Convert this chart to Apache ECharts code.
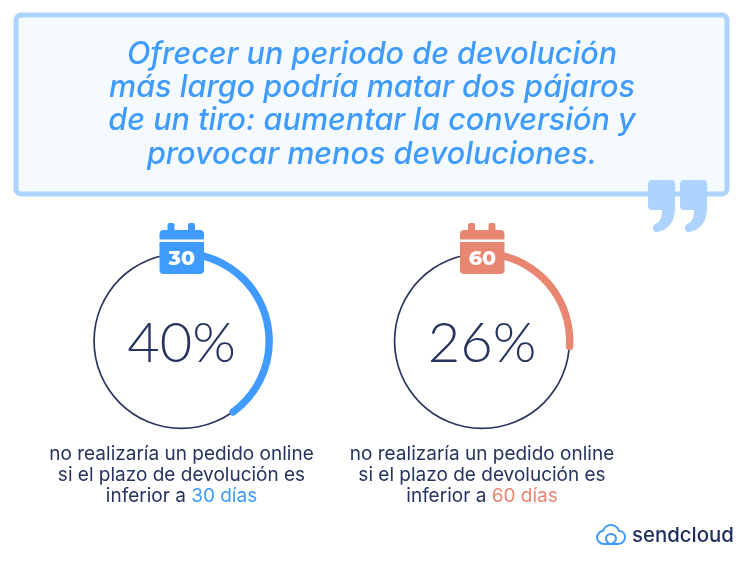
<!DOCTYPE html>
<html><head><meta charset="utf-8">
<style>html,body{margin:0;padding:0;background:#fff}#c{width:750px;height:565px}</style>
<script src="https://cdn.jsdelivr.net/npm/echarts@6/dist/echarts.min.js"></script>
</head><body><div id="c"></div>
<script>
const titleLines = ['Ofrecer un periodo de devolución','más largo podría matar dos pájaros','de un tiro: aumentar la conversión y','provocar menos devoluciones.'];
const percents = [40, 26];
const days = ['30', '60'];
const captionLines = ['no realizaría un pedido online','si el plazo de devolución es','inferior a '];
const accentColors = ['#3f9bff', '#e98671'];
const centersX = [181.5, 482];
const centerY = 341;
const navy = '#26345f';
const font = 'Inter';

const quote = 'M4 0 H23 Q27 0 27 4 V28 C27 42 20 50 9 52 Q5 52 5 48 Q5 44 9 43 C13 41 14 36 14 30 H4 Q0 30 0 26 V4 Q0 0 4 0 Z';
const cloud = 'M7 19 H21 C26 19 28 15 28 12 C28 8 25 6 22 6 C21 2 17 0 14 0 C10 0 7 3 6 6 C3 6 0 9 0 12.5 C0 16 3 19 7 19 M14 19 C11 19 9 16 9 13.5 C9 11 11 9 14 9 C17 9 19 11 19 13.5 C19 16 17 18 15 18';
echarts.graphic.registerShape('quoteMark', echarts.graphic.extendPath(quote, {}));
echarts.graphic.registerShape('cloudMark', echarts.graphic.extendPath(cloud, {}));

const chart = echarts.init(document.getElementById('c'), null, {renderer:'canvas'});
const series = [];
percents.forEach((p,i)=>{
  series.push({type:'gauge',silent:true,animation:false,center:[centersX[i],centerY],radius:88.3,startAngle:90,endAngle:-270,min:0,max:100,
    pointer:{show:false},axisTick:{show:false},splitLine:{show:false},axisLabel:{show:false},
    axisLine:{roundCap:false,lineStyle:{width:1.7,color:[[1,'#2b3560']]}},
    detail:{show:true,valueAnimation:false,offsetCenter:[0,3],formatter:'{value}%',color:navy,fontFamily:'Lato',fontWeight:300,fontSize:56},
    title:{show:false},
    data:[{value:p}]});
  series.push({type:'gauge',silent:true,animation:false,center:[centersX[i],centerY],radius:91.4,startAngle:90,endAngle:-270,min:0,max:100,
    pointer:{show:false},axisTick:{show:false},splitLine:{show:false},axisLabel:{show:false},
    axisLine:{show:false},
    progress:{show:true,roundCap:true,width:7.4,itemStyle:{color:accentColors[i]}},
    detail:{show:false},title:{show:false},
    data:[{value:p}]});
});

const graphic = [
  {type:'rect',z:1,shape:{x:16,y:15,width:711,height:179,r:5},style:{fill:'#f5faff',stroke:'#acd4ff',lineWidth:5}},
  {type:'quoteMark',z:2,x:648,y:180,style:{fill:'#acd4ff'}},
  {type:'quoteMark',z:2,x:680,y:180,style:{fill:'#acd4ff'}}
];
titleLines.forEach((t,i)=>graphic.push({type:'text',z:3,x:372,y:[55,88,121,155][i],style:{text:t,fill:'#3f9bff',font:'italic 500 30.6px '+font,textAlign:'center',textVerticalAlign:'middle'}}));
centersX.forEach((cx,i)=>{
  const c = accentColors[i], x0 = cx-22;
  graphic.push(
    {type:'rect',z:10,shape:{x:x0+8,y:223,width:7,height:10,r:2},style:{fill:c}},
    {type:'rect',z:10,shape:{x:x0+28.5,y:223,width:7,height:10,r:2},style:{fill:c}},
    {type:'rect',z:10,shape:{x:x0,y:230,width:44.5,height:9.5,r:[4,4,1,1]},style:{fill:c}},
    {type:'rect',z:10,shape:{x:x0,y:242,width:44.5,height:32,r:[0,0,4,4]},style:{fill:c}},
    {type:'text',z:11,x:cx+0.3,y:259,style:{text:days[i],fill:'#fff',font:'800 20.5px Montserrat, Lato',textAlign:'center',textVerticalAlign:'middle'}}
  );
  captionLines.forEach((t,k)=>{
    const y=[454,475,496][k];
    if(k<2) graphic.push({type:'text',z:3,x:cx,y,style:{text:t,fill:navy,font:'400 19px '+font,textAlign:'center',textVerticalAlign:'middle'}});
    else graphic.push({type:'text',z:3,x:cx,y,style:{text:'{a|'+t+'}{b|'+days[i]+' días}',textAlign:'center',textVerticalAlign:'middle',
      rich:{a:{fill:navy,font:'400 19px '+font},b:{fill:c,font:'400 19px '+font}}}});
  });
});
graphic.push(
 {type:'cloudMark',z:5,x:597,y:525,style:{fill:'none',stroke:'#3f9bff',lineWidth:2}},
 {type:'text',z:5,x:632,y:536,style:{text:'sendcloud',fill:'#1f2f5c',font:'500 20.4px '+font,textAlign:'left',textVerticalAlign:'middle'}}
);
chart.setOption({animation:false,backgroundColor:'#fff',series,graphic});
</script></body></html>
